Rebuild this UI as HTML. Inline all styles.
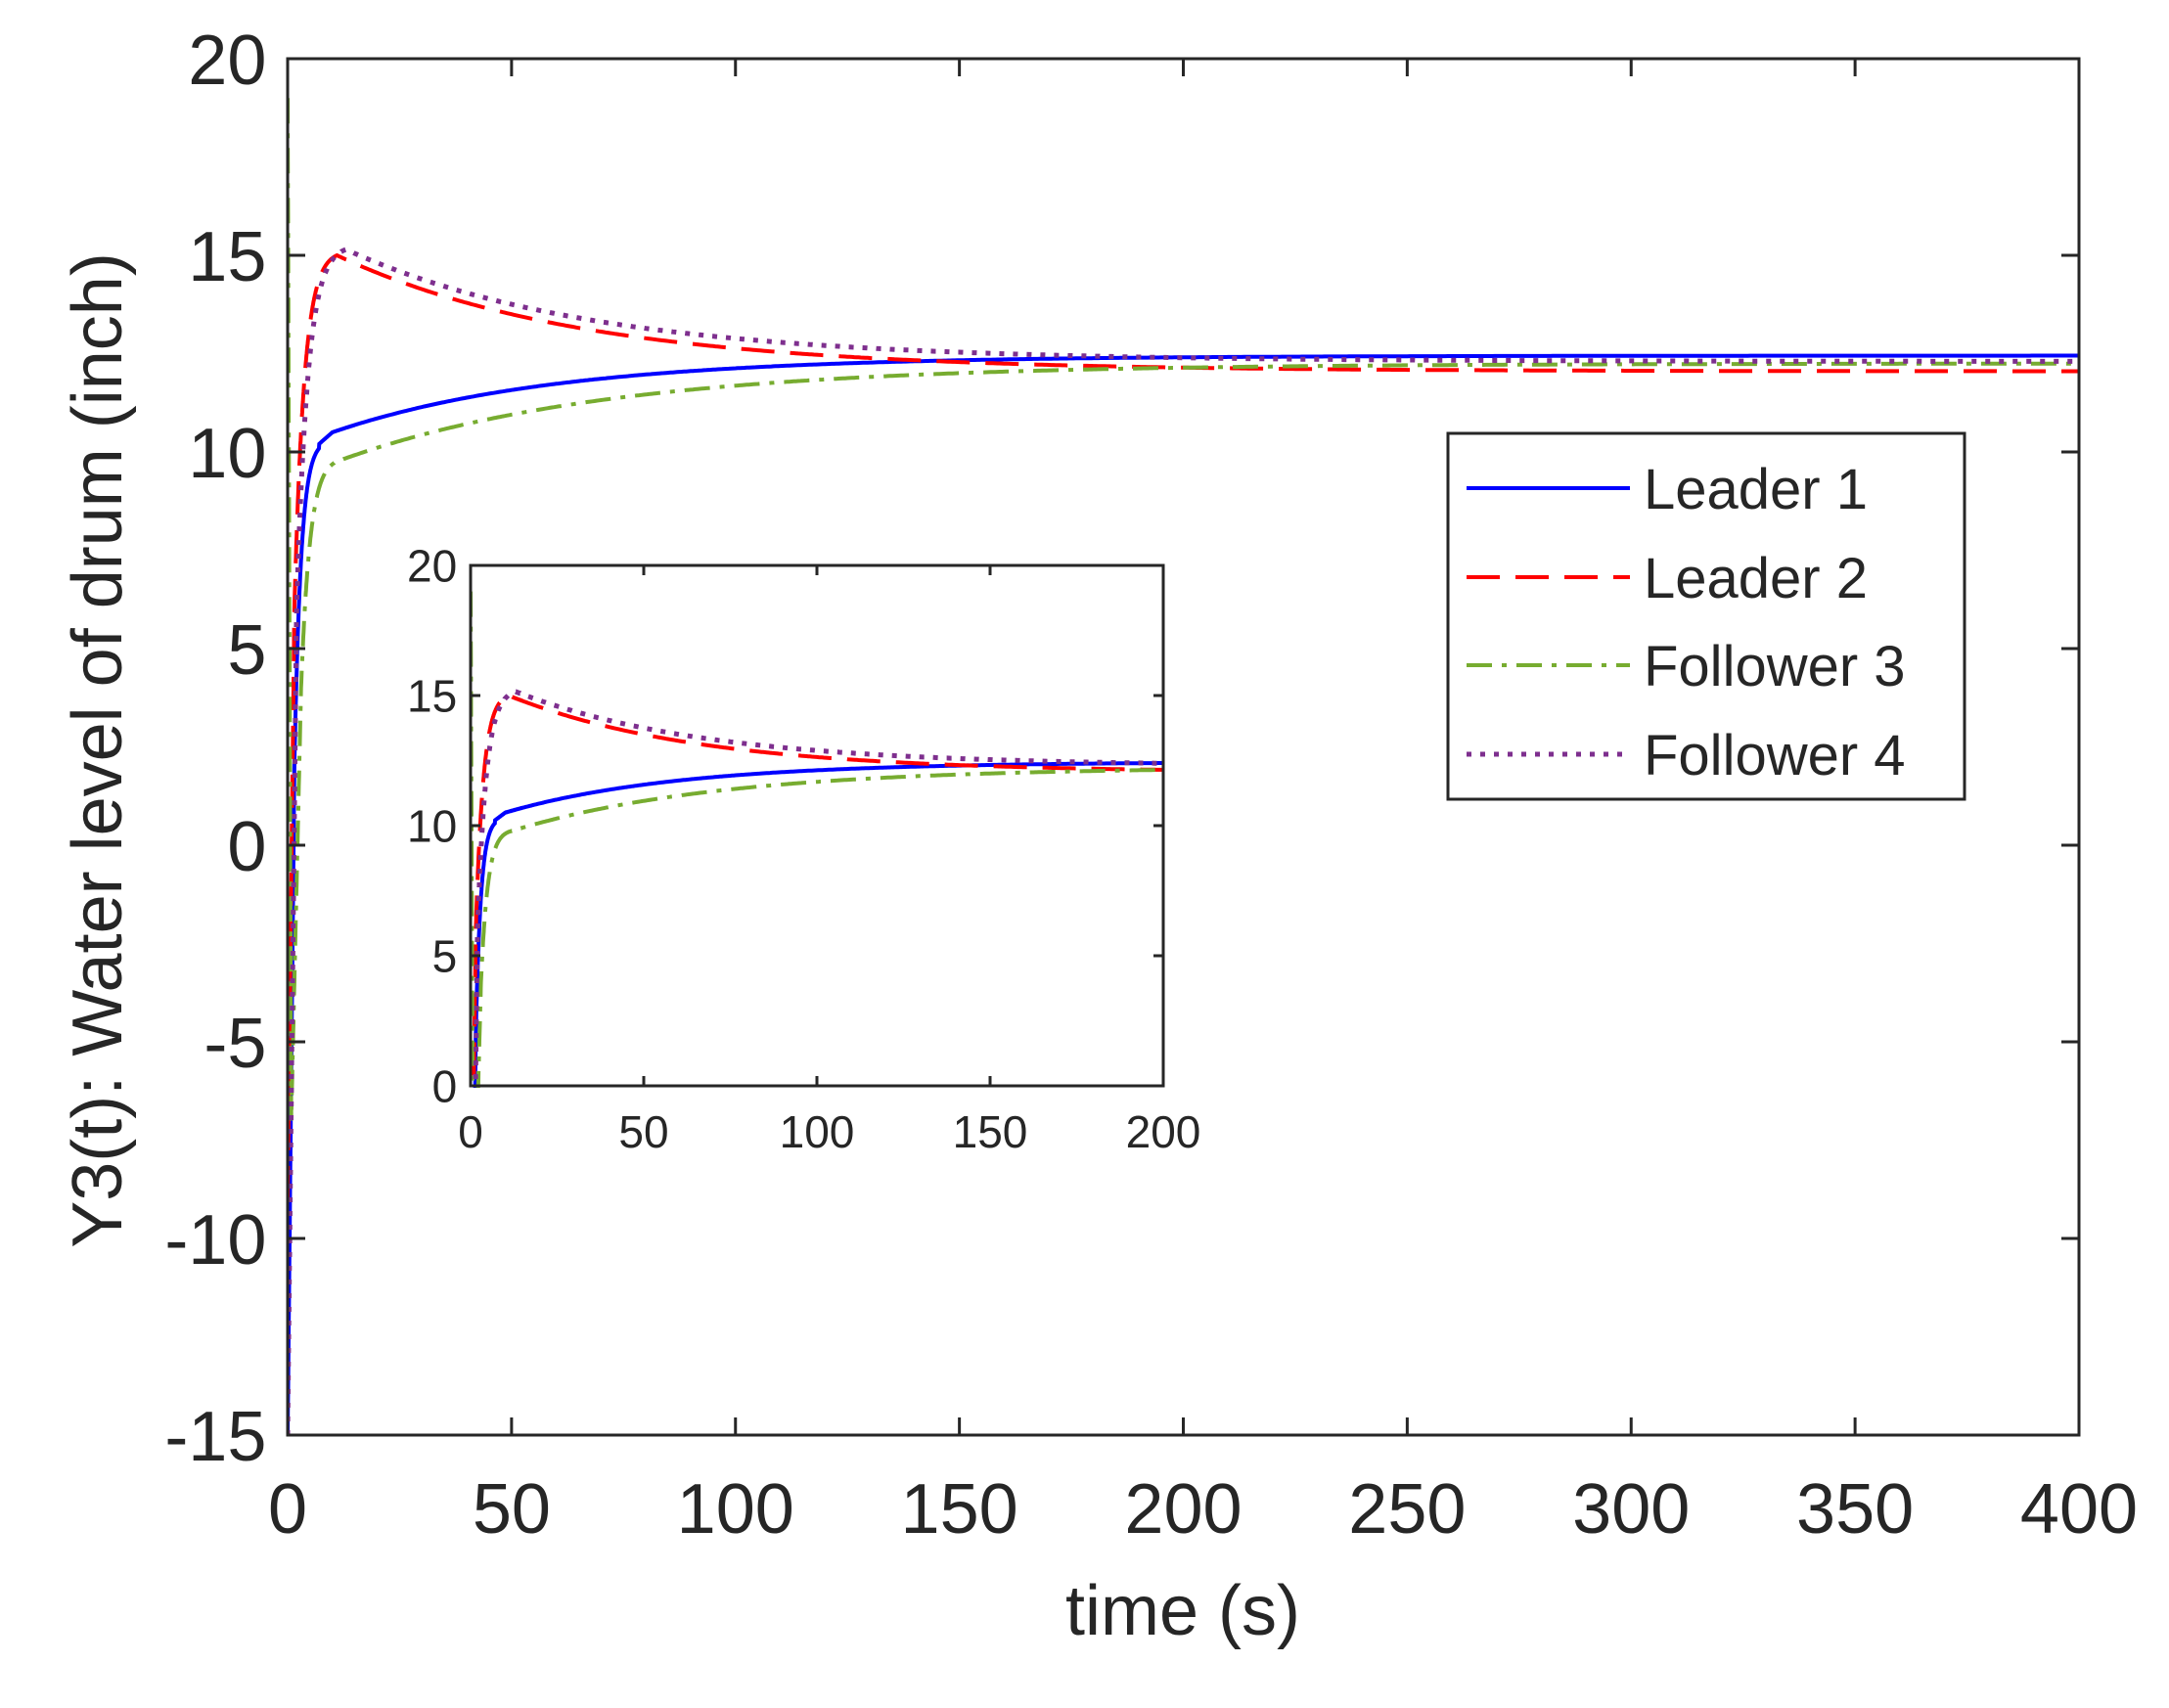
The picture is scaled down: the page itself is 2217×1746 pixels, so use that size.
<!DOCTYPE html>
<html><head><meta charset="utf-8"><style>
html,body{margin:0;padding:0;background:#fff}
svg{display:block}
text{font-family:"Liberation Sans",Arial,sans-serif;fill:#262626}
</style></head><body>
<svg id="s" width="2217" height="1746" viewBox="0 0 2217 1746" xmlns="http://www.w3.org/2000/svg">
<rect width="2217" height="1746" fill="#fff"/>
<g id="main"></g>
<g id="inset"></g>
<!-- legend -->
<rect x="1480" y="443" width="528" height="374" fill="#fff" stroke="#262626" stroke-width="3"/>
<line x1="1499" y1="499" x2="1666" y2="499" stroke="#0000ff" stroke-width="4"/>
<line x1="1499" y1="590" x2="1666" y2="590" stroke="#ff0000" stroke-width="4" stroke-dasharray="34,16"/>
<line x1="1499" y1="680" x2="1666" y2="680" stroke="#77ac30" stroke-width="4" stroke-dasharray="26,10,5,10"/>
<line x1="1499" y1="771" x2="1666" y2="771" stroke="#7e2f8e" stroke-width="5" stroke-dasharray="5,9"/>
<text x="1680" y="520" font-size="58">Leader 1</text>
<text x="1680" y="611" font-size="58">Leader 2</text>
<text x="1680" y="701" font-size="58">Follower 3</text>
<text x="1680" y="792" font-size="58">Follower 4</text>
<text x="1209" y="1671" font-size="72" text-anchor="middle">time (s)</text>
<text transform="translate(124,767) rotate(-90)" font-size="72" text-anchor="middle">Y3(t): Water level of drum (inch)</text>
</svg>
<script>
function val(k,t){
 if(k==0){ if(t<1.5) return -15+t/1.5*17; if(t<7) return 2+8.3*(1-Math.exp(-(t-1.5)/1.5)); if(t<10) return 10.2+0.1*(t-7);
   return 12.45-1.95*Math.exp(-(t-10)/50);}
 if(k==1){ if(t<1.5) return -9+t/1.5*15; if(t<11) return 6+9*(1-Math.exp(-(t-1.5)/2.2))/(1-Math.exp(-9.5/2.2));
   return 12.05+2.95*Math.exp(-(t-11)/55);}
 if(k==2){ if(t<0.8) return 19-t/0.8*26; if(t<3) return -7+(t-0.8)/2.2*11; if(t<12) return 4+5.8*(1-Math.exp(-(t-3)/2))/(1-Math.exp(-4.5));
   return 12.25-2.45*Math.exp(-(t-12)/60);}
 if(k==3){ if(t<2) return -15+t/2*21; if(t<13) return 6+9.15*(1-Math.exp(-(t-2)/2.5))/(1-Math.exp(-11/2.5));
   return 12.3+2.85*Math.exp(-(t-13)/55);}
}
var cols=["#0000ff","#ff0000","#77ac30","#7e2f8e"];
var dash=["","34,16","26,10,5,10","5,9"];
var widths=[4,4,4,5];
function plot(g,x0,x1,y0,y1,tmax,ymin,ymax,ticksX,ticksY,fs,tl,xoff){
 var sx=(x1-x0)/tmax, sy=(y1-y0)/(ymax-ymin);
 var h='<rect x="'+x0+'" y="'+y0+'" width="'+(x1-x0)+'" height="'+(y1-y0)+'" fill="#fff"/>';
 h+='<clipPath id="c'+g+'"><rect x="'+x0+'" y="'+(y0-2)+'" width="'+(x1-x0)+'" height="'+(y1-y0+4)+'"/></clipPath><g clip-path="url(#c'+g+')">';
 for(var k=0;k<4;k++){
  var p=[];var ts=[];
  for(var t=0;t<=15;t+=0.05)ts.push(t);
  for(var t=15.5;t<=tmax;t+=0.5)ts.push(t);
  ts.forEach(function(t){var v=val(k,t);p.push((x0+t*sx).toFixed(1)+','+(y1-(v-ymin)*sy).toFixed(1));});
  h+='<polyline points="'+p.join(' ')+'" fill="none" stroke="'+cols[k]+'" stroke-width="'+widths[k]+'"'+(dash[k]?' stroke-dasharray="'+dash[k]+'"':'')+'/>';
 }
 h+='</g>';
 h+='<rect x="'+x0+'" y="'+y0+'" width="'+(x1-x0)+'" height="'+(y1-y0)+'" fill="none" stroke="#262626" stroke-width="3"/>';
 ticksX.forEach(function(v){var x=x0+v*sx;
  h+='<line x1="'+x+'" y1="'+y1+'" x2="'+x+'" y2="'+(y1-tl)+'" stroke="#262626" stroke-width="3"/>';
  h+='<line x1="'+x+'" y1="'+y0+'" x2="'+x+'" y2="'+(y0+tl)+'" stroke="#262626" stroke-width="3"/>';
  h+='<text x="'+x+'" y="'+(y1+xoff)+'" font-size="'+fs+'" text-anchor="middle">'+v+'</text>';});
 ticksY.forEach(function(v){var y=y1-(v-ymin)*sy;
  h+='<line x1="'+x0+'" y1="'+y+'" x2="'+(x0+tl)+'" y2="'+y+'" stroke="#262626" stroke-width="3"/>';
  h+='<line x1="'+x1+'" y1="'+y+'" x2="'+(x1-tl)+'" y2="'+y+'" stroke="#262626" stroke-width="3"/>';
  h+='<text x="'+(x0-fs*0.3)+'" y="'+(y+fs*0.36)+'" font-size="'+fs+'" text-anchor="end">'+v+'</text>';});
 document.getElementById(g).innerHTML=h;
}
plot("main",294,2125,60,1467,400,-15,20,[0,50,100,150,200,250,300,350,400],[-15,-10,-5,0,5,10,15,20],72,18,100);
plot("inset",481,1189,578,1110,200,0,20,[0,50,100,150,200],[0,5,10,15,20],46,10,63);
</script>
</body></html>
